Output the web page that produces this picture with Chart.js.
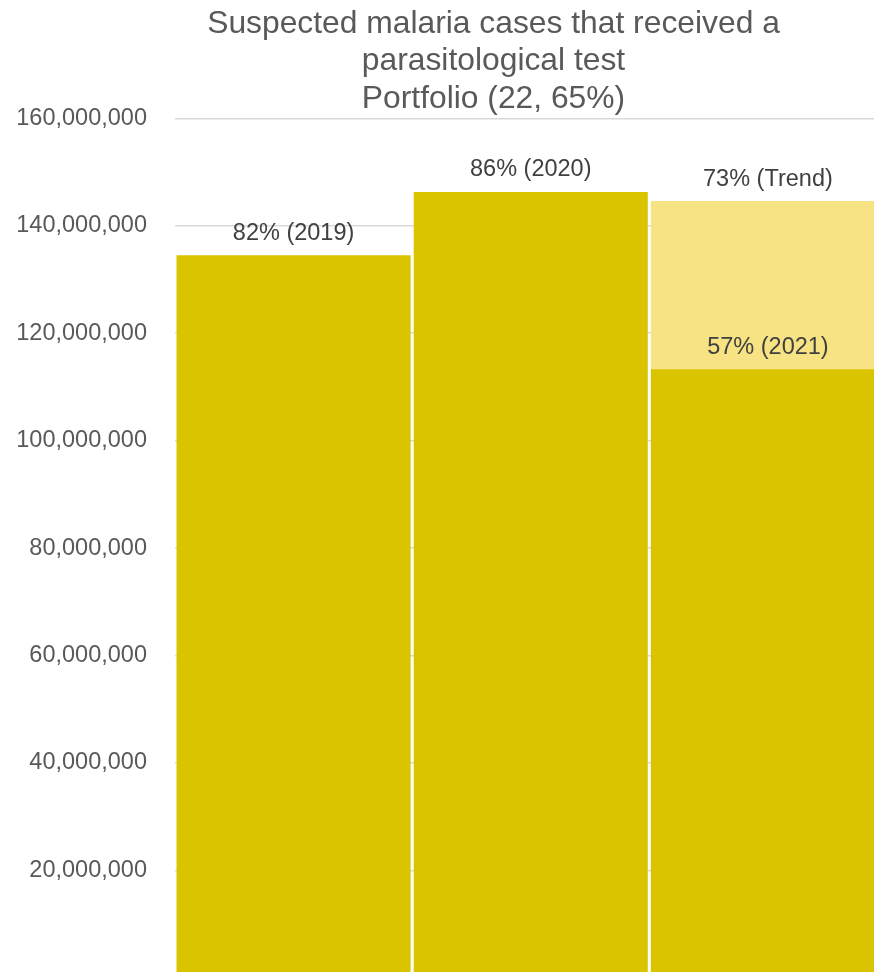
<!DOCTYPE html>
<html>
<head>
<meta charset="utf-8">
<title>Suspected malaria cases that received a parasitological test</title>
<script src="https://cdn.jsdelivr.net/npm/chart.js@4/dist/chart.umd.min.js"></script>
<style>
  html, body { margin: 0; padding: 0; background: #ffffff; overflow: hidden; }
  #wrap { position: relative; width: 890px; height: 1020px; }
</style>
</head>
<body>
<div id="wrap"><canvas id="chart" width="890" height="1020"></canvas></div>
<script>
// Categories (years)
const categories = ['2019', '2020', '2021'];

// Suspected cases that received a parasitological test
const actualValues = [134500000, 146300000, 113300000];
const actualLabels = ['82% (2019)', '86% (2020)', '57% (2021)'];

// Trend projection for the last year
const trendValues = [null, null, 144600000];
const trendLabels = [null, null, '73% (Trend)'];

// Axis ticks
const yTickValues = [20000000, 40000000, 60000000, 80000000, 100000000, 120000000, 140000000, 160000000];

const titleLines = ['Suspected malaria cases that received a', 'parasitological test', 'Portfolio (22, 65%)'];

const FONT = "'Liberation Sans', Arial, Helvetica, sans-serif";

// Writes the percentage label above each bar
const barLabelPlugin = {
  id: 'barLabels',
  afterDatasetsDraw(chart) {
    const ctx = chart.ctx;
    const sets = [actualLabels, trendLabels];
    ctx.save();
    ctx.font = '23.5px ' + FONT;
    ctx.fillStyle = '#404040';
    ctx.textAlign = 'center';
    ctx.textBaseline = 'middle';
    sets.forEach((labels, di) => {
      const meta = chart.getDatasetMeta(di);
      meta.data.forEach((bar, i) => {
        if (labels[i] == null) return;
        ctx.fillText(labels[i], bar.x, bar.y - 22);
      });
    });
    ctx.restore();
  }
};

// Centres the title block on a fixed horizontal position
const titleShiftPlugin = {
  id: 'titleShift',
  afterLayout(chart) {
    const tb = chart.titleBlock;
    if (!tb) return;
    const w = tb.right - tb.left;
    const cx = 493.5;
    tb.left = cx - w / 2;
    tb.right = cx + w / 2;
  }
};

new Chart(document.getElementById('chart'), {
  type: 'bar',
  data: {
    labels: categories,
    datasets: [
      {
        label: 'Actual',
        data: actualValues,
        backgroundColor: '#DAC400',
        borderWidth: 0,
        grouped: false,
        barPercentage: 0.987,
        categoryPercentage: 1.0
      },
      {
        label: 'Trend',
        data: trendValues,
        backgroundColor: '#F7E383',
        borderWidth: 0,
        grouped: false,
        barPercentage: 0.987,
        categoryPercentage: 1.0
      }
    ]
  },
  options: {
    responsive: false,
    animation: false,
    devicePixelRatio: 1,
    layout: { padding: { left: -11.7, right: 3.5, top: 0, bottom: 0 } },
    plugins: {
      legend: { display: false },
      tooltip: { enabled: false },
      title: {
        display: true,
        text: titleLines,
        color: '#595959',
        font: { family: FONT, size: 31.8, weight: 'normal', lineHeight: 1.17 },
        padding: { top: 5.9, bottom: 0.8 }
      }
    },
    scales: {
      x: {
        display: false
      },
      y: {
        min: 0,
        max: 160000000,
        border: { display: false },
        grid: { color: '#D9D9D9', lineWidth: 1.5, drawTicks: false },
        afterBuildTicks(axis) {
          axis.ticks = [0].concat(yTickValues).map(v => ({ value: v }));
        },
        ticks: {
          padding: 28,
          color: '#595959',
          font: { family: FONT, size: 23.5 },
          callback(value) {
            if (value === 0) return '';
            return value.toLocaleString('en-US');
          }
        }
      }
    }
  },
  plugins: [barLabelPlugin, titleShiftPlugin]
});
</script>
</body>
</html>
